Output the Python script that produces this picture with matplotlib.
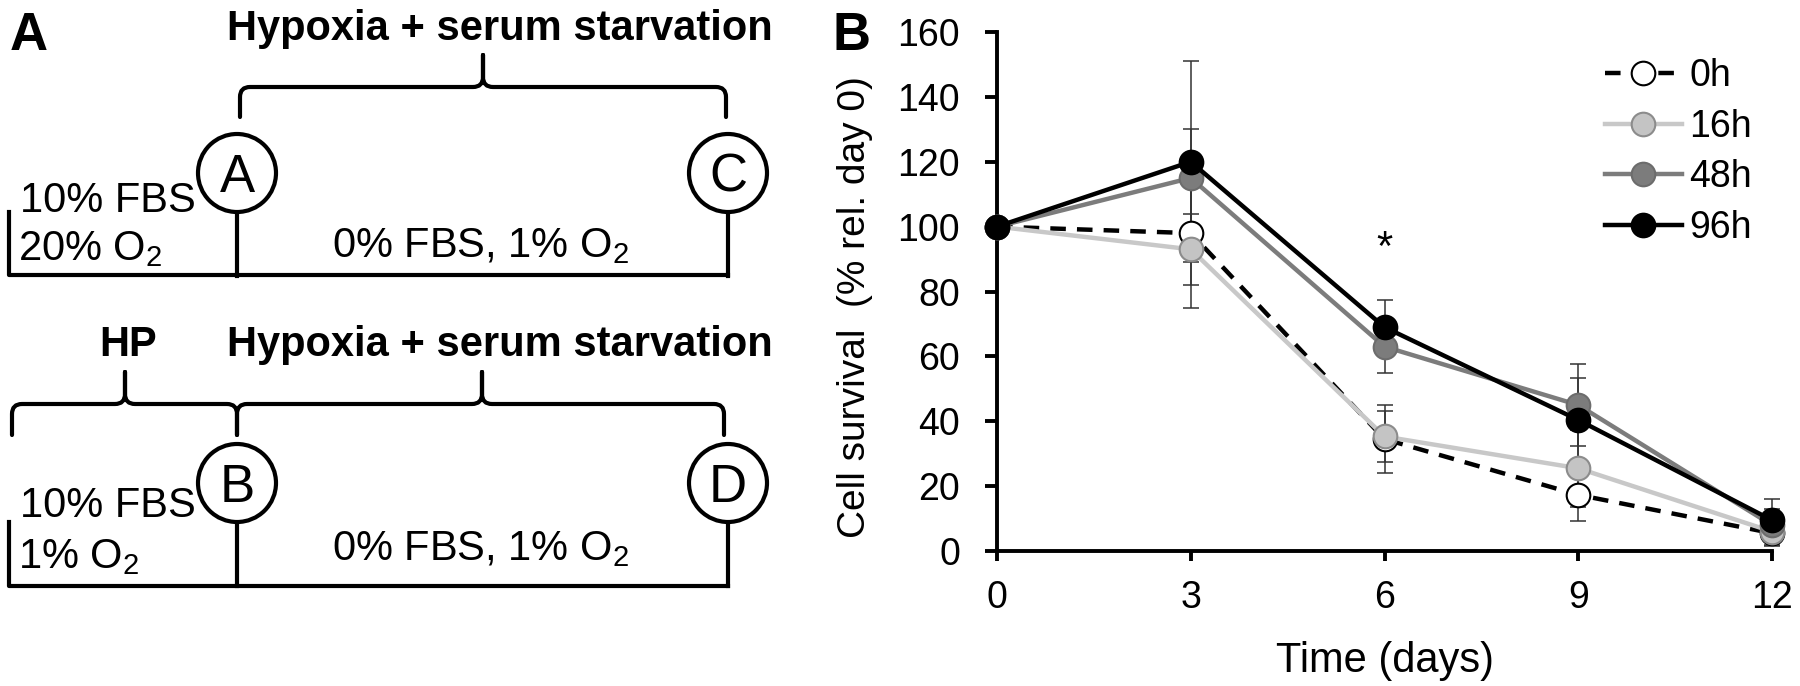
import matplotlib
matplotlib.use('Agg')
import matplotlib.pyplot as plt
from matplotlib.path import Path
from matplotlib.patches import PathPatch, Circle

plt.rcParams['font.family'] = ['Liberation Sans', 'DejaVu Sans']
plt.rcParams['mathtext.fontset'] = 'custom'
plt.rcParams['mathtext.rm'] = 'Liberation Sans'
plt.rcParams['mathtext.default'] = 'regular'

# data (cell survival, % rel. day 0)
days = [0, 3, 6, 9, 12]
series_labels = ['0h', '16h', '48h', '96h']
surv_0h = [100, 98, 34.5, 17.3, 5.5]
err_0h = [0, 23, 10.5, 8, 4]
surv_16h = [100, 93, 35.3, 25.5, 6]
err_16h = [0, 11, 8, 11.8, 4]
surv_48h = [100, 115, 63, 45, 8]
err_48h = [0, 15, 8, 12.5, 5]
surv_96h = [100, 120, 69, 40.4, 9.5]
err_96h = [0, 31, 8.5, 13, 6.5]
x_ticks = [0, 3, 6, 9, 12]
y_ticks = [0, 20, 40, 60, 80, 100, 120, 140, 160]
star_day, star_y = 6, 93

W, H = 1800, 686
fig = plt.figure(figsize=(W / 100, H / 100), dpi=100)

# ---------- panel A: schematic, drawn in pixel coords ----------
axA = fig.add_axes([0, 0, 1, 1])
axA.set_xlim(0, W)
axA.set_ylim(H, 0)
axA.axis('off')

lw_d = 3.0


def brace(x0, x1, xm, y, ytip, yend, r=10):
    verts = [(x0, yend), (x0, y + r), (x0, y), (x0 + r, y), (xm - r, y), (xm, y), (xm, y - r), (xm, ytip),
             (xm, ytip), (xm, y - r), (xm, y), (xm + r, y), (x1 - r, y), (x1, y), (x1, y + r), (x1, yend)]
    codes = [Path.MOVETO, Path.LINETO, Path.CURVE3, Path.CURVE3, Path.LINETO, Path.CURVE3, Path.CURVE3, Path.LINETO,
             Path.MOVETO, Path.LINETO, Path.CURVE3, Path.CURVE3, Path.LINETO, Path.CURVE3, Path.CURVE3, Path.LINETO]
    axA.add_patch(PathPatch(Path(verts, codes), fill=False, lw=lw_d, ec='black', capstyle='round', joinstyle='round'))


def line(xs, ys):
    axA.plot(xs, ys, color='black', lw=lw_d, solid_capstyle='projecting')


def node(cx, cy, letter, r=39):
    axA.add_patch(Circle((cx, cy), r, fc='white', ec='black', lw=lw_d, zorder=3))
    axA.text(cx, cy + 19, letter, fontsize=38, ha='center', va='baseline', zorder=4)
    line([cx, cx], [cy + r, cy + r + 64])


axA.text(10, 50, 'A', fontsize=38, fontweight='bold', ha='left', va='baseline')

# top timeline
axA.text(500, 40, 'Hypoxia + serum starvation', fontsize=30, fontweight='bold', ha='center', va='baseline')
brace(240, 726, 483, 87, 55, 117)
node(237, 173, 'A')
node(728, 173, 'C')
line([9, 9, 728], [212, 275, 275])
axA.text(20, 212, '10% FBS', fontsize=30, ha='left', va='baseline')
axA.text(18, 260, '20% O$_2$', fontsize=30, ha='left', va='baseline')
axA.text(481, 257, '0% FBS, 1% O$_2$', fontsize=30, ha='center', va='baseline')

# bottom timeline
axA.text(128, 356, 'HP', fontsize=30, fontweight='bold', ha='center', va='baseline')
axA.text(500, 356, 'Hypoxia + serum starvation', fontsize=30, fontweight='bold', ha='center', va='baseline')
brace(12, 237, 125, 404, 372, 435)
brace(237, 724, 482, 404, 372, 435)
node(237, 483, 'B')
node(728, 483, 'D')
line([9, 9, 728], [522, 586, 586])
axA.text(20, 517, '10% FBS', fontsize=30, ha='left', va='baseline')
axA.text(18, 568, '1% O$_2$', fontsize=30, ha='left', va='baseline')
axA.text(481, 560, '0% FBS, 1% O$_2$', fontsize=30, ha='center', va='baseline')

# ---------- panel B: survival curves ----------
x0, x1, y0, y1 = 997, 1772, 551, 32
ax = fig.add_axes([x0 / W, (H - y0) / H, (x1 - x0) / W, (y0 - y1) / H])
ax.patch.set_alpha(0)

surv = [surv_0h, surv_16h, surv_48h, surv_96h]
errs = [err_0h, err_16h, err_48h, err_96h]
styles = [
    dict(color='black', ls=(0, (3.5, 2.5)), mfc='white', mec='black'),
    dict(color='#c8c8c8', ls='-', mfc='#c4c4c4', mec='#8c8c8c'),
    dict(color='#7c7c7c', ls='-', mfc='#7c7c7c', mec='#6c6c6c'),
    dict(color='black', ls='-', mfc='black', mec='black'),
]

for s, e in zip(surv, errs):
    ax.errorbar(days, s, yerr=e, fmt='none', ecolor='#333333', elinewidth=1.1,
                capsize=5.5, capthick=1.1, zorder=2, clip_on=False)

for i, (s, lab, st) in enumerate(zip(surv, series_labels, styles)):
    ax.plot(days, s, marker='o', ms=17, lw=3.2, mew=1.5, label=lab, zorder=3 + i, clip_on=False, **st)

ax.text(star_day, star_y, '*', fontsize=30, ha='center', va='center')

ax.set_xlim(0, 12)
ax.set_ylim(0, 160)
ax.set_xticks(x_ticks)
ax.set_yticks(y_ticks)
for sp in ['top', 'right']:
    ax.spines[sp].set_visible(False)
for sp in ['left', 'bottom']:
    ax.spines[sp].set_linewidth(2.8)
ax.tick_params(axis='x', direction='out', length=7, width=2.8, pad=14, labelsize=27)
ax.tick_params(axis='y', direction='out', length=8.5, width=2.8, pad=18, labelsize=27)

fig.text(1385 / W, (H - 672) / H, 'Time (days)', fontsize=30, ha='center', va='baseline')
fig.text(855 / W, 1 - 307 / H, 'Cell survival  (% rel. day 0)', fontsize=28, rotation=90,
         ha='center', va='center')
fig.text(832 / W, 1 - 50 / H, 'B', fontsize=38, fontweight='bold', ha='left', va='baseline')

ax.legend(loc='upper left', bbox_to_anchor=(1605 / W, 1 - 58 / H), bbox_transform=fig.transFigure,
          frameon=False, fontsize=27, handlelength=2.05, handletextpad=0.2, labelspacing=0.39,
          borderpad=0, borderaxespad=0)

fig.savefig('out.png', dpi=100)
